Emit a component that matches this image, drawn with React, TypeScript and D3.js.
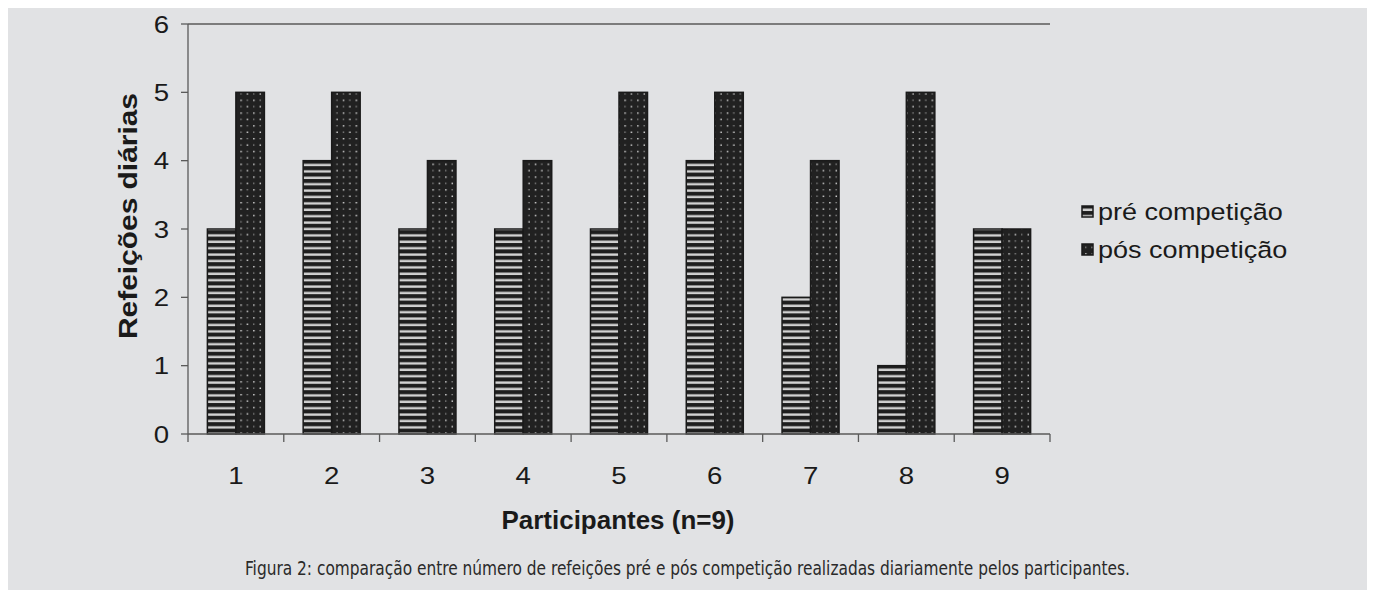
import React, { useEffect } from "react";
import * as d3 from "d3";

const participants = ["1", "2", "3", "4", "5", "6", "7", "8", "9"];
const preCompeticao = [3, 4, 3, 3, 3, 4, 2, 1, 3];
const posCompeticao = [5, 5, 4, 4, 5, 5, 4, 5, 3];
const yTicks = [0, 1, 2, 3, 4, 5, 6];
const seriesNames = ["pré competição", "pós competição"];

const W = 1367;
const H = 582;
const OFF = 8; // svg sits inside the body margin
const plot = { left: 188 - OFF, right: 1050 - OFF, top: 24 - OFF, bottom: 434 - OFF };

export default function App() {
  useEffect(() => {
    document.body.style.overflow = "hidden";
  }, []);

  const x = d3.scaleBand<string>().domain(participants).range([plot.left, plot.right]).paddingInner(0).paddingOuter(0);
  const inner = d3.scaleBand<string>().domain(["pre", "pos"]).range([0, x.bandwidth()]).paddingInner(0).paddingOuter(0.68);
  const y = d3.scaleLinear().domain([0, 6]).range([plot.bottom, plot.top]);

  const axisColor = "#5a5a5a";
  const font = "Liberation Sans, Arial, sans-serif";
  const ink = "#1a1a1a";
  const bw = inner.bandwidth();
  const sx = 1.15; // wide lettering

  return (
    <svg width={W} height={H} style={{ display: "block" }}>
      <defs>
        <pattern id="stripes" patternUnits="userSpaceOnUse" width="8" height="6.4">
          <rect width="8" height="6.4" fill="#1e1e1e" />
          <rect y="2.2" width="8" height="2.4" fill="#d2d2d2" />
        </pattern>
        <pattern id="dots" patternUnits="userSpaceOnUse" width="12.8" height="12.8">
          <rect width="12.8" height="12.8" fill="#212121" />
          <rect x="2" y="2" width="1.4" height="1.4" fill="#e6e6e6" />
          <rect x="8.4" y="8.4" width="1.4" height="1.4" fill="#e6e6e6" />
          <rect x="8.4" y="2" width="1.2" height="1.2" fill="#a8a8a8" />
          <rect x="2" y="8.4" width="1.2" height="1.2" fill="#a8a8a8" />
        </pattern>
      </defs>
      <rect width={W} height={H} fill="#e1e2e4" />

      {/* top line at the maximum */}
      <line x1={plot.left} x2={plot.right} y1={y(6)} y2={y(6)} stroke={axisColor} strokeWidth={1.3} />

      {/* bars */}
      {participants.map((p, i) => {
        const x0 = x(p)!;
        return (
          <g key={p}>
            <rect
              x={x0 + inner("pre")!}
              y={y(preCompeticao[i])}
              width={bw}
              height={y(0) - y(preCompeticao[i])}
              fill="url(#stripes)"
              stroke={ink}
              strokeWidth={1.5}
            />
            <rect
              x={x0 + inner("pos")!}
              y={y(posCompeticao[i])}
              width={bw}
              height={y(0) - y(posCompeticao[i])}
              fill="url(#dots)"
              stroke={ink}
              strokeWidth={1.5}
            />
          </g>
        );
      })}

      {/* y axis */}
      <line x1={plot.left} x2={plot.left} y1={plot.top} y2={plot.bottom + 8} stroke={axisColor} strokeWidth={1.3} />
      {yTicks.map((t) => (
        <g key={t}>
          <line x1={plot.left - 7} x2={plot.left} y1={y(t)} y2={y(t)} stroke={axisColor} strokeWidth={1.3} />
          <g transform={`translate(${plot.left - 19},${y(t)}) scale(${sx},1)`}>
            <text dy="0.36em" textAnchor="end" fontFamily={font} fontSize={24} fill={ink}>
              {t}
            </text>
          </g>
        </g>
      ))}

      {/* x axis */}
      <line x1={plot.left} x2={plot.right} y1={plot.bottom} y2={plot.bottom} stroke={axisColor} strokeWidth={1.3} />
      {participants.map((p) => (
        <g key={p}>
          <line x1={x(p)! + x.bandwidth()} x2={x(p)! + x.bandwidth()} y1={plot.bottom} y2={plot.bottom + 8} stroke={axisColor} strokeWidth={1.3} />
          <g transform={`translate(${x(p)! + x.bandwidth() / 2},${plot.bottom + 50}) scale(${sx},1)`}>
            <text textAnchor="middle" fontFamily={font} fontSize={24} fill={ink}>
              {p}
            </text>
          </g>
        </g>
      ))}

      {/* axis titles */}
      <text
        transform={`translate(${137 - OFF},${216 - OFF}) rotate(-90)`}
        textAnchor="middle"
        fontFamily={font}
        fontWeight="bold"
        fontSize={25}
        fill={ink}
        textLength={246}
        lengthAdjust="spacingAndGlyphs"
      >
        Refeições diárias
      </text>
      <text
        x={618 - OFF}
        y={529 - OFF}
        textAnchor="middle"
        fontFamily={font}
        fontWeight="bold"
        fontSize={25}
        fill={ink}
        textLength={233}
        lengthAdjust="spacingAndGlyphs"
      >
        Participantes (n=9)
      </text>

      {/* legend */}
      {seriesNames.map((name, i) => {
        const ly = 212 - OFF + i * 38;
        return (
          <g key={name}>
            <rect x={1082 - OFF} y={ly - 6} width={11} height={11} fill={i === 0 ? "url(#stripes)" : "url(#dots)"} stroke={ink} strokeWidth={1.5} />
            <g transform={`translate(${1098 - OFF},${ly}) scale(${1.15},1)`}>
              <text dy="0.36em" fontFamily={font} fontSize={23.5} fill={ink}>
                {name}
              </text>
            </g>
          </g>
        );
      })}

      {/* caption */}
      <text
        x={245 - OFF}
        y={575 - OFF}
        fontFamily="Liberation Sans Narrow, DejaVu Sans Condensed, Arial Narrow, sans-serif"
        fontSize={20}
        fill="#2a2a2a"
        textLength={885}
        lengthAdjust="spacingAndGlyphs"
      >
        Figura 2: comparação entre número de refeições pré e pós competição realizadas diariamente pelos participantes.
      </text>
    </svg>
  );
}
